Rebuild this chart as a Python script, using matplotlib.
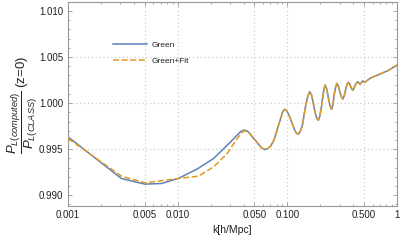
import numpy as np
import matplotlib
matplotlib.use("Agg")
import matplotlib.pyplot as plt
from matplotlib.ticker import FixedLocator, FixedFormatter, NullFormatter

# ---- data ----
k_green = [0.001, 0.00307, 0.00503, 0.00714, 0.0101, 0.0150, 0.0213, 0.0283,
           0.0349, 0.0375, 0.0401, 0.0425, 0.0443, 0.0479, 0.0536, 0.0580, 0.0620,
           0.0660, 0.0704, 0.0755, 0.0810, 0.0869, 0.0905, 0.0945, 0.0990,
           0.1035, 0.1090, 0.1150, 0.1200, 0.1251, 0.1310, 0.1373, 0.1420,
           0.1472, 0.1540, 0.1601, 0.1660, 0.1715, 0.1765, 0.1816, 0.1870,
           0.1922, 0.1980, 0.2047, 0.2125, 0.2170, 0.2209, 0.2290, 0.2373,
           0.2450, 0.2528, 0.2600, 0.2670, 0.2750, 0.2826, 0.2910, 0.3010,
           0.3110, 0.3207, 0.3300, 0.3394, 0.3490, 0.3585, 0.3690, 0.3795,
           0.3870, 0.3958, 0.4070, 0.4190, 0.4300, 0.4397, 0.4500, 0.4616,
           0.4750, 0.4886, 0.5097, 0.5395, 0.5781, 0.6660, 0.8221, 1.0]
green = [0.99634, 0.99181, 0.99120, 0.99127, 0.99181, 0.99283, 0.99399, 0.99543,
         0.99652, 0.99690, 0.99707, 0.99700, 0.99685, 0.99634, 0.99565, 0.99515, 0.99497,
         0.99505, 0.99533, 0.99598, 0.99715, 0.99834, 0.99905, 0.99932, 0.99915,
         0.99870, 0.99800, 0.99725, 0.99678, 0.99660, 0.99690, 0.99761, 0.99870,
         0.99978, 1.00080, 1.00123, 1.00090, 1.00014, 0.99935, 0.99870, 0.99828,
         0.99815, 0.99860, 0.99960, 1.00100, 1.00165, 1.00196, 1.00150, 1.00051,
         0.99970, 0.99932, 0.99985, 1.00087, 1.00170, 1.00214, 1.00190, 1.00123,
         1.00068, 1.00043, 1.00078, 1.00141, 1.00198, 1.00225, 1.00212, 1.00177,
         1.00150, 1.00141, 1.00168, 1.00203, 1.00225, 1.00232, 1.00218, 1.00203,
         1.00226, 1.00242, 1.00225, 1.00250, 1.00275, 1.00304, 1.00351, 1.00413]

# Green+Fit differs only at low k; from k=0.0479 on it follows Green
k_fit_low = [0.001, 0.00307, 0.00503, 0.0101, 0.0155, 0.0213, 0.0283, 0.0349, 0.0401, 0.0443]
fit_low = [0.99616, 0.99207, 0.99134, 0.99181, 0.99207, 0.99308, 0.99453, 0.99616, 0.99699, 0.99685]
split = k_green.index(0.0479)
k_fit = k_fit_low + k_green[split:]
fit = fit_low + green[split:]

x_ticks = [0.001, 0.005, 0.01, 0.05, 0.1, 0.5, 1]
x_ticklabels = ["0.001", "0.005", "0.010", "0.050", "0.100", "0.500", "1"]
y_ticks = [0.990, 0.995, 1.000, 1.005, 1.010]
y_ticklabels = ["0.990", "0.995", "1.000", "1.005", "1.010"]

BLUE = "#5E81B5"
ORANGE = "#E19C24"
FRAME = "#999999"
TXT = "#222222"

plt.rcParams['font.family'] = ['Liberation Sans', 'DejaVu Sans']
plt.rcParams['mathtext.fontset'] = 'custom'
plt.rcParams['mathtext.rm'] = 'Liberation Sans'
plt.rcParams['mathtext.it'] = 'Liberation Sans:italic'

fig = plt.figure(figsize=(4.0, 2.42), dpi=100)
ax = fig.add_axes([68/400, 1-205.5/242, (397-68)/400, (205.5-2)/242])

ax.set_xscale('log')
ax.set_xlim(0.001, 1.0)
ax.set_ylim(0.98888, 1.01098)

# grid lines
for gx in [0.005, 0.01, 0.05, 0.1, 0.5]:
    ax.axvline(gx, color="#c8c8c8", lw=0.8, ls=(0, (1, 2.5)), zorder=0)
for gy in [0.995, 1.000, 1.005]:
    ax.axhline(gy, color="#c8c8c8", lw=0.8, ls=(0, (1, 2.5)), zorder=0)

ax.plot(k_green, green, color=BLUE, lw=1.1, label="Green", zorder=2)
ax.plot(k_fit, fit, color=ORANGE, lw=1.1, dashes=(4, 1.6), label="Green+Fit", zorder=3)

# ticks
ax.xaxis.set_major_locator(FixedLocator(x_ticks))
ax.xaxis.set_major_formatter(FixedFormatter(x_ticklabels))
minors = []
for dec in [0.001, 0.01, 0.1]:
    for m in [2, 3, 4, 6, 7, 8, 9]:
        minors.append(dec * m)
ax.xaxis.set_minor_locator(FixedLocator(minors))
ax.xaxis.set_minor_formatter(NullFormatter())
ax.yaxis.set_major_locator(FixedLocator(y_ticks))
ax.yaxis.set_major_formatter(FixedFormatter(y_ticklabels))
ax.yaxis.set_minor_locator(FixedLocator(list(np.arange(0.989, 1.0105, 0.001))))

ax.tick_params(which='both', direction='in', top=True, right=True,
               color=FRAME, width=0.6, labelsize=7, labelcolor=TXT)
ax.tick_params(which='major', length=3.0)
ax.tick_params(which='minor', length=1.6)
ax.tick_params(axis='y', pad=3.5)
ax.tick_params(axis='x', pad=3.0)
for s in ax.spines.values():
    s.set_color(FRAME)
    s.set_linewidth(0.8)

ax.set_xlabel("k[h/Mpc]", fontsize=7.5, color=TXT, labelpad=4)
fig.text(0.058, 0.5 + (242/2 - 105)/242,
         r"$\dfrac{P_{L(computed)}}{P_{L(CLASS)}}$ (z=0)",
         rotation=90, ha='center', va='center', fontsize=9.5, color=TXT)

leg = ax.legend(loc='upper left', bbox_to_anchor=(0.138, 0.808), frameon=False,
                fontsize=6, handlelength=4.0, handletextpad=0.6,
                labelspacing=1.0, borderpad=0, borderaxespad=0)
for t in leg.get_texts():
    t.set_color(TXT)

fig.savefig("out.png", dpi=100)
